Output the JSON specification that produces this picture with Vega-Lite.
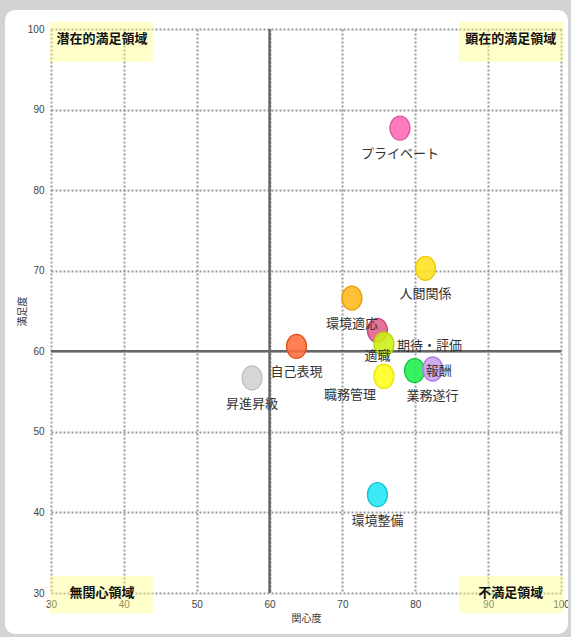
{
  "$schema": "https://vega.github.io/schema/vega-lite/v6.json",
  "width": 510,
  "height": 564,
  "autosize": {"type": "none"},
  "padding": {"left": 51, "top": 29, "right": 10, "bottom": 44},
  "background": "white",
  "config": {
    "view": {"stroke": null},
    "axis": {
      "grid": true,
      "gridDash": [2, 2],
      "gridColor": "#999999",
      "gridWidth": 2,
      "domain": false,
      "ticks": false,
      "labelFlush": false,
      "labelFont": "Liberation Sans",
      "labelFontSize": 10,
      "labelColor": "#444444",
      "titleFont": "Noto Sans CJK JP",
      "titleFontSize": 10,
      "titleFontWeight": "normal",
      "titleColor": "#333333"
    }
  },
  "datasets": {
    "points": [
      {"name": "プライベート", "x": 77.9, "y": 87.7},
      {"name": "人間関係", "x": 81.4, "y": 70.3},
      {"name": "環境適応", "x": 71.3, "y": 66.6},
      {"name": "適職", "x": 74.8, "y": 62.6},
      {"name": "期待・評価", "x": 75.7, "y": 60.9},
      {"name": "職務管理", "x": 75.7, "y": 56.9},
      {"name": "業務遂行", "x": 79.9, "y": 57.6},
      {"name": "報酬", "x": 82.4, "y": 57.8},
      {"name": "自己表現", "x": 63.7, "y": 60.6},
      {"name": "昇進昇級", "x": 57.6, "y": 56.7},
      {"name": "環境整備", "x": 74.8, "y": 42.2}
    ],
    "quadrants": [
      {"label": "潜在的満足領域", "x": 29.8, "x2": 44.0, "y": 95.9, "y2": 100.9, "tx": 37.0, "ty": 98.7},
      {"label": "顕在的満足領域", "x": 86.0, "x2": 100.3, "y": 95.9, "y2": 100.9, "tx": 93.1, "ty": 98.7},
      {"label": "無関心領域", "x": 29.8, "x2": 44.0, "y": 27.5, "y2": 32.1, "tx": 37.0, "ty": 30.0},
      {"label": "不満足領域", "x": 86.0, "x2": 100.3, "y": 27.5, "y2": 32.1, "tx": 93.1, "ty": 30.0}
    ]
  },
  "layer": [
    {
      "data": {"name": "quadrants"},
      "mark": {"type": "rect", "fill": "#FFFF80", "opacity": 0.4},
      "encoding": {
        "x": {"field": "x", "type": "quantitative", "scale": {"domain": [30, 100], "nice": false, "zero": false},
              "axis": {"values": [30, 40, 50, 60, 70, 80, 90, 100], "title": "関心度", "labelPadding": 6, "titlePadding": 4}},
        "x2": {"field": "x2"},
        "y": {"field": "y", "type": "quantitative", "scale": {"domain": [30, 100], "nice": false, "zero": false},
              "axis": {"values": [30, 40, 50, 60, 70, 80, 90, 100], "title": "満足度", "labelPadding": 7, "titleX": -24, "titleY": 282}},
        "y2": {"field": "y2"}
      }
    },
    {
      "data": {"name": "quadrants"},
      "mark": {"type": "text", "font": "Noto Sans CJK JP", "fontSize": 13, "fontWeight": "bold", "color": "#111111", "align": "center", "baseline": "middle"},
      "encoding": {
        "x": {"field": "tx", "type": "quantitative"},
        "y": {"field": "ty", "type": "quantitative"},
        "text": {"field": "label"}
      }
    },
    {
      "data": {"values": [{}]},
      "mark": {"type": "rule", "color": "#666666", "strokeWidth": 2.5},
      "encoding": {"x": {"datum": 60, "type": "quantitative"}}
    },
    {
      "data": {"values": [{}]},
      "mark": {"type": "rule", "color": "#666666", "strokeWidth": 2.5},
      "encoding": {"y": {"datum": 60, "type": "quantitative"}}
    },
    {
      "data": {"name": "points"},
      "mark": {"type": "point", "filled": true, "shape": "M-0.83,0A0.83,1 0 1,1 0.83,0A0.83,1 0 1,1 -0.83,0Z", "size": 576, "fillOpacity": 0.88, "strokeOpacity": 1, "strokeWidth": 1.3},
      "encoding": {
        "x": {"field": "x", "type": "quantitative"},
        "y": {"field": "y", "type": "quantitative"},
        "fill": {"field": "name", "type": "nominal", "legend": null,
          "scale": {"domain": ["プライベート", "人間関係", "環境適応", "適職", "期待・評価", "職務管理", "業務遂行", "報酬", "自己表現", "昇進昇級", "環境整備"],
                    "range": ["#FF69B4", "#FFE11F", "#FFB81C", "#E0608C", "#CCF014", "#FFFF1A", "#1FEF4F", "#CCA0F0", "#FF6E3C", "#D2D2D2", "#22E6F2"]}},
        "stroke": {"field": "name", "type": "nominal", "legend": null,
          "scale": {"domain": ["プライベート", "人間関係", "環境適応", "適職", "期待・評価", "職務管理", "業務遂行", "報酬", "自己表現", "昇進昇級", "環境整備"],
                    "range": ["#E0559B", "#EFC800", "#E89C00", "#C8407A", "#B5D800", "#E6E600", "#10C43A", "#B07FE0", "#E04F20", "#BDBDBD", "#10C4D4"]}}
      }
    },
    {
      "data": {"name": "points"},
      "transform": [{"filter": {"field": "name", "oneOf": ["プライベート", "人間関係", "環境適応", "適職", "自己表現", "昇進昇級", "環境整備"]}}],
      "mark": {"type": "text", "font": "Noto Sans CJK JP", "fontSize": 13, "color": "#333333", "align": "center", "baseline": "middle", "dy": 26},
      "encoding": {"x": {"field": "x", "type": "quantitative"}, "y": {"field": "y", "type": "quantitative"}, "text": {"field": "name"}}
    },
    {
      "data": {"name": "points"},
      "transform": [{"filter": {"field": "name", "equal": "期待・評価"}}],
      "mark": {"type": "text", "font": "Noto Sans CJK JP", "fontSize": 13, "color": "#333333", "align": "left", "baseline": "middle", "dx": 13, "dy": 2},
      "encoding": {"x": {"field": "x", "type": "quantitative"}, "y": {"field": "y", "type": "quantitative"}, "text": {"field": "name"}}
    },
    {
      "data": {"name": "points"},
      "transform": [{"filter": {"field": "name", "equal": "職務管理"}}],
      "mark": {"type": "text", "font": "Noto Sans CJK JP", "fontSize": 13, "color": "#333333", "align": "center", "baseline": "middle", "dx": -34, "dy": 19},
      "encoding": {"x": {"field": "x", "type": "quantitative"}, "y": {"field": "y", "type": "quantitative"}, "text": {"field": "name"}}
    },
    {
      "data": {"name": "points"},
      "transform": [{"filter": {"field": "name", "equal": "業務遂行"}}],
      "mark": {"type": "text", "font": "Noto Sans CJK JP", "fontSize": 13, "color": "#333333", "align": "center", "baseline": "middle", "dx": 18, "dy": 25},
      "encoding": {"x": {"field": "x", "type": "quantitative"}, "y": {"field": "y", "type": "quantitative"}, "text": {"field": "name"}}
    },
    {
      "data": {"name": "points"},
      "transform": [{"filter": {"field": "name", "equal": "報酬"}}],
      "mark": {"type": "text", "font": "Noto Sans CJK JP", "fontSize": 13, "color": "#333333", "align": "center", "baseline": "middle", "dx": 6, "dy": 2},
      "encoding": {"x": {"field": "x", "type": "quantitative"}, "y": {"field": "y", "type": "quantitative"}, "text": {"field": "name"}}
    },
    {
      "data": {"values": [{}]},
      "mark": {"type": "rect", "fill": "white", "fillOpacity": 0, "stroke": "#D3D3D3", "strokeWidth": 20, "cornerRadius": 20},
      "encoding": {
        "x": {"datum": 22.31, "type": "quantitative"},
        "x2": {"datum": 102.33},
        "y": {"datum": 103.6, "type": "quantitative"},
        "y2": {"datum": 23.67}
      }
    }
  ]
}
